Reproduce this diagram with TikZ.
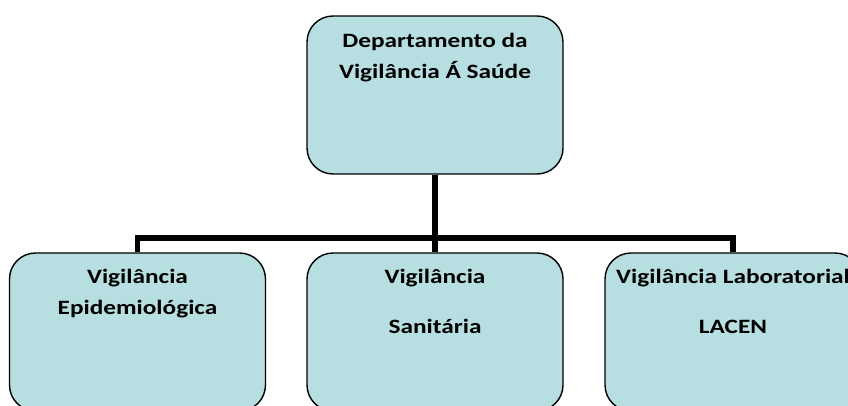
\documentclass[tikz,border=0pt]{standalone}
\usepackage{fontspec}
\usepackage{tikz}
\usetikzlibrary{positioning}
\newfontfamily\boxfont{Carlito}[FakeStretch=1.24]
\definecolor{boxfill}{HTML}{B7DFE1}
\tikzset{
    box/.style={draw=black, line width=1pt, fill=boxfill, rounded corners=0.65cm,
        minimum width=6.4cm, minimum height=3.95cm, inner sep=0pt},
    boxtext/.style={anchor=base, align=center, inner sep=0pt,
        font=\boxfont\bfseries\fontsize{14.5}{22}\selectfont},
    conn/.style={line width=3.6pt}
}
\begin{document}
\begin{tikzpicture}
                \useasboundingbox (0,0) rectangle (21.2,-10.125);

                %Nodes
                \node[box] at (10.875,-2.375) (dep) {};
                \node[box] at (3.4375,-8.3) (epi) {};
                \node[box] at (10.875,-8.3) (san) {};
                \node[box] at (18.325,-8.3) (lab) {};

                %Texts (placed at the baseline of the last line)
                \node[boxtext] at (10.875,-1.95) (deptxt) {Departamento da\\Vigilância Á Saúde};
                \node[boxtext] at (3.4375,-7.85) (epitxt) {Vigilância\\Epidemiológica};
                \node[boxtext] at (10.875,-8.325) (santxt) {Vigilância\\[13pt]Sanitária};
                \node[boxtext] at (18.325,-8.325) (labtxt) {Vigilância Laboratorial\\[13pt]LACEN};

                %Lines
                \coordinate (bus) at (10.875,-5.95);
                \draw[conn] (dep) -- (bus);
                \draw[conn] (bus) -| (epi);
                \draw[conn] (bus) -| (san);
                \draw[conn] (bus) -| (lab);
            \end{tikzpicture}
\end{document}
